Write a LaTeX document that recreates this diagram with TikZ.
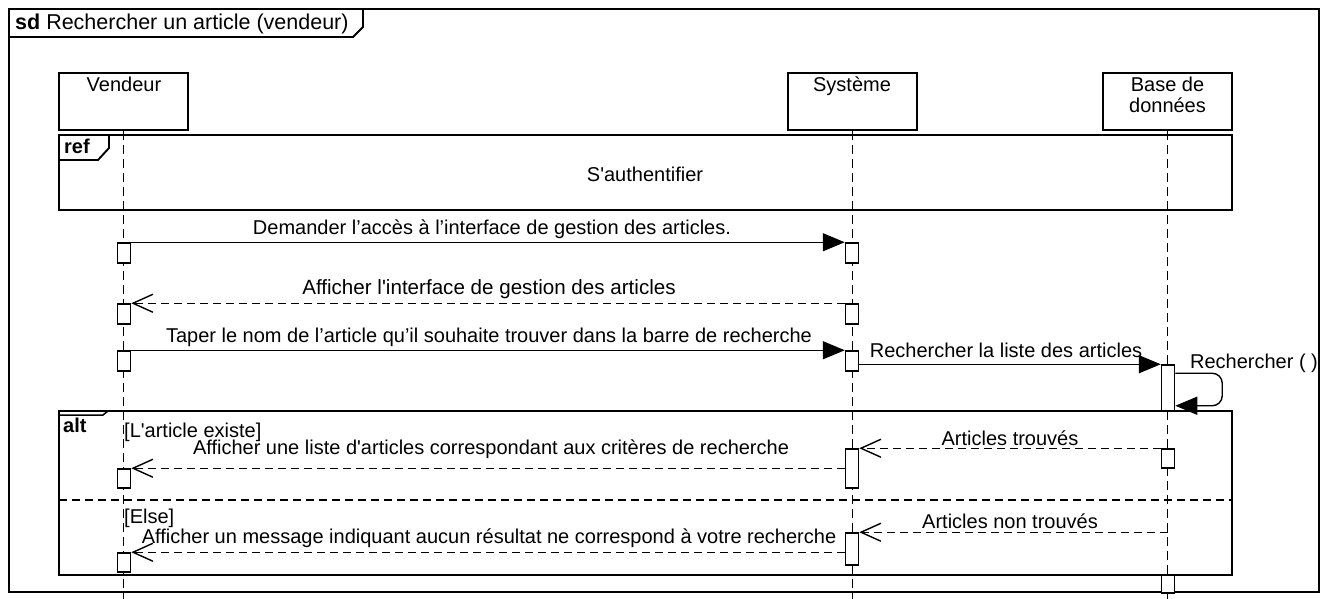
\documentclass[tikz,border=0pt]{standalone}
\usepackage{fontspec}
% plain family: no TeX quote mapping, so ' stays straight
\newfontfamily\arialike{Liberation Sans}
\usetikzlibrary{arrows.meta,calc}
\begin{document}
\begin{tikzpicture}[x=1pt,y=-1pt,
  font=\arialike\fontsize{20}{24}\selectfont,
  frame/.style={draw=black,line width=1.9pt},
  head/.style={draw=black,line width=1.7pt,minimum width=129pt,minimum height=57pt,inner sep=0pt},
  lifeline/.style={draw=black,line width=1.6pt,dash pattern=on 9pt off 5pt},
  act/.style={draw=black,fill=white,line width=1.5pt,minimum width=13pt,inner sep=0pt},
  txt/.style={inner sep=0pt},
  call/.style={draw=black,line width=1.4pt,-{Triangle[length=22pt,width=18pt]}},
  reply/.style={draw=black,line width=1.4pt,dash pattern=on 8pt off 5pt,-{Straight Barb[length=20pt,width=18pt,line width=1.4pt]}},
  sep/.style={draw=black,line width=1.5pt,dash pattern=on 8pt off 5pt}]
\useasboundingbox (0,0) rectangle (1325,599);
\coordinate (bottom) at (0,599);

% outer frame with its title tab
\draw[frame] (9,9) rectangle (1319,592);
\draw[frame] (9,37) -- (353,37) -- (363,27) -- (363,9);
\node[txt,anchor=west,font=\arialike\fontsize{21.5}{24}\selectfont] (title) at (15,24) {\textbf{sd} Rechercher un article (vendeur)};

% lifeline heads
\node[head] (vend) at (123.5,101.5) {};
\node[txt,anchor=base] (vendlbl) at (124,91.5) {Vendeur};
\node[head] (sys) at (852.5,101.5) {};
\node[txt,anchor=base] (syslbl) at (852,91.5) {Système};
\node[head] (bd) at (1167.5,101.5) {};
\node[txt,anchor=base] (bdlbl1) at (1167.5,92) {Base de};
\node[txt,anchor=base] (bdlbl2) at (1167.5,113) {données};

% lifelines
\draw[lifeline] (vend.south) -- (vend.south |- bottom);
\draw[lifeline] (sys.south) -- (sys.south |- bottom);
\draw[lifeline] (bd.south) -- (bd.south |- bottom);

% ref fragment
\draw[frame] (59,135) rectangle (1232,210);
\draw[frame] (59,160) -- (98,160) -- (109,148) -- (109,135);
\node[txt,anchor=west] (reflbl) at (64,146) {\textbf{ref}};
\node[txt] (auth) at (645,174) {S'authentifier};

% alt fragment
\draw[frame] (59,411) rectangle (1232,575);
\draw[line width=1.5pt] (59,415) -- (103,415) -- (108,411);
\node[txt,anchor=west] (altlbl) at (63,425) {\textbf{alt}};
\draw[sep] (59,500) -- (1232,500);
\node[txt,anchor=west] (g1) at (124,432) {[L'article existe]};
\node[txt,anchor=west] (g2) at (124,518) {[Else]};

% activation bars
\node[act,minimum height=20pt] (a1v) at (124,253) {};
\node[act,minimum height=20pt] (a1s) at (852,253) {};
\node[act,minimum height=20pt] (a2v) at (124,314) {};
\node[act,minimum height=20pt] (a2s) at (852,314) {};
\node[act,minimum height=20pt] (a3v) at (124,361) {};
\node[act,minimum height=20pt] (a3s) at (852,361) {};
\node[act,minimum height=46pt] (a4b) at (1168,388) {};
\node[act,minimum height=19pt] (a6b) at (1168,458.5) {};
\node[act,minimum height=39pt] (a6s) at (852,468.5) {};
\node[act,minimum height=19pt] (a7v) at (124,478.5) {};
\node[act,minimum height=32pt] (a8s) at (852,549) {};
\node[act,minimum height=19pt] (a9v) at (124,562.5) {};
\node[act,minimum height=18pt] (a10b) at (1168,584) {};

% messages
\draw[call] (a1v.north east) -- (a1s.north west);
\node[txt] (m1) at (492,229) {Demander l’accès à l’interface de gestion des articles.};

\draw[reply] (a2s.north west) -- (a2v.north east);
\node[txt,font=\arialike\fontsize{20.6}{24}\selectfont] (m2) at (489,289) {Afficher l'interface de gestion des articles};

\draw[call] (a3v.north east) -- (a3s.north west);
\node[txt] (m3) at (489,337) {Taper le nom de l’article qu’il souhaite trouver dans la barre de recherche};

\draw[call] (a3s.east |- a4b.north) -- (a4b.north west);
\node[txt] (m4) at (1006,350) {Rechercher la liste des articles};

\coordinate (selfout) at ($(a4b.north east)+(0,9)$);
\coordinate (selfin) at ($(a4b.south east)+(0,-6)$);
\draw[call,rounded corners=10pt] (selfout) -- ++(47,0) |- (selfin);
\node[txt] (m5) at (1254,363) {Rechercher ( )};

\draw[reply] (a6b.north west) -- (a6s.north east);
\node[txt] (m6) at (1010,438) {Articles trouvés};

\draw[reply] (a6s.west |- a7v.north) -- (a7v.north east);
\node[txt] (m7) at (491,449) {Afficher une liste d'articles correspondant aux critères de recherche};

\draw[reply] (bd.south |- a8s.north) -- (a8s.north east);
\node[txt] (m8) at (1010,521) {Articles non trouvés};

\draw[reply] (a8s.west |- a9v.north) -- (a9v.north east);
\node[txt] (m9) at (489,538) {Afficher un message indiquant aucun résultat ne correspond à votre recherche};
\end{tikzpicture}
\end{document}
